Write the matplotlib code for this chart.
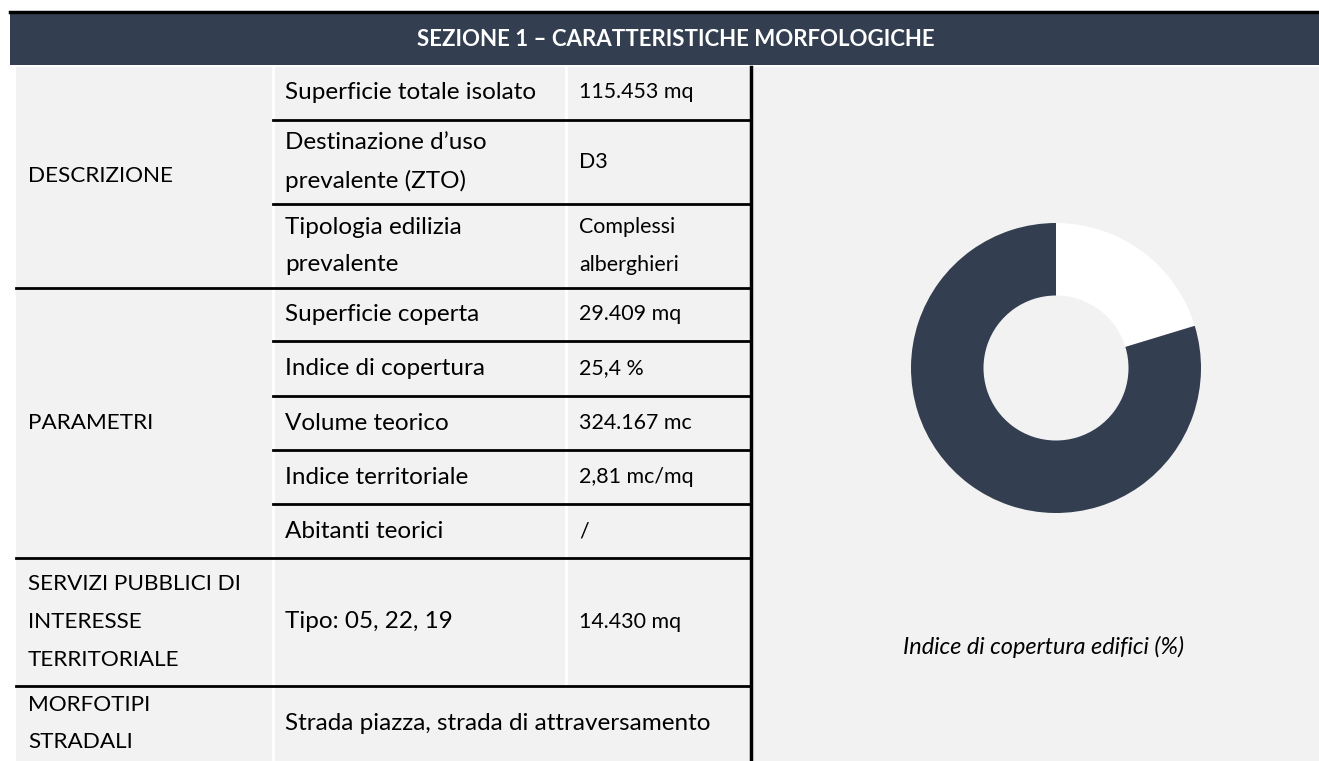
import matplotlib.pyplot as plt
from matplotlib.patches import Rectangle

plt.rcParams['font.family'] = ['Lato', 'DejaVu Sans']

DARK = "#333f50"
GRAY = "#f2f2f2"

title = "SEZIONE 1 – CARATTERISTICHE MORFOLOGICHE"

# table content
sections = ["DESCRIZIONE", "PARAMETRI", "SERVIZI PUBBLICI DI\nINTERESSE\nTERRITORIALE",
            "MORFOTIPI\nSTRADALI"]
section_rows = [3, 5, 1, 1]
row_labels = ["Superficie totale isolato", "Destinazione d’uso\nprevalente (ZTO)",
              "Tipologia edilizia\nprevalente", "Superficie coperta", "Indice di copertura",
              "Volume teorico", "Indice territoriale", "Abitanti teorici", "Tipo: 05, 22, 19",
              "Strada piazza, strada di attraversamento"]
row_values = ["115.453 mq", "D3", "Complessi\nalberghieri", "29.409 mq", "25,4 %",
              "324.167 mc", "2,81 mc/mq", "/", "14.430 mq", ""]

# donut: covered vs uncovered share
donut_values = [20.3, 79.7]
donut_caption = "Indice di copertura edifici (%)"

# layout (pixels)
W, H = 1319, 761
row_edges = [65, 120, 204, 288, 341, 396, 450, 504, 558, 686, 761]
x0, x1, x2, x3 = 16, 273, 566, 751

fig = plt.figure(figsize=(W / 100, H / 100), dpi=100)
ax = fig.add_axes([0, 0, 1, 1])
ax.set_xlim(0, W)
ax.set_ylim(H, 0)
ax.axis("off")

# backgrounds
ax.add_patch(Rectangle((x0, 67), W - x0, H - 67, color=GRAY, lw=0))
ax.add_patch(Rectangle((x0 - 6, 12), W, 53, color=DARK, lw=0))
ax.plot([x0 - 6, W], [11.5, 11.5], color="black", lw=2.5)
ax.text(676, 39, title, color="white", fontsize=16, fontweight="bold",
        ha="center", va="center")

# rows
for i, (lab, val) in enumerate(zip(row_labels, row_values)):
    top, bot = row_edges[i], row_edges[i + 1]
    yc = (top + bot) / 2
    ax.text(285, yc, lab, fontsize=17.5, ha="left", va="center", linespacing=1.95)
    if val:
        ax.text(579, yc, val, fontsize=15.4, ha="left", va="center", linespacing=2.1)
        ax.plot([x2, x2], [top + 2, bot - 2], color="white", lw=2)
    ax.plot([x1, x1], [top + 2, bot - 2], color="white", lw=2)

# section labels and lines
r = 0
for sec, n in zip(sections, section_rows):
    top, bot = row_edges[r], row_edges[r + n]
    ax.text(28, (top + bot) / 2, sec, fontsize=16.2, ha="left", va="center", linespacing=2.1)
    for k in range(r + 1, r + n):
        ax.plot([x1, x3], [row_edges[k], row_edges[k]], color="black", lw=2)
    if r + n < len(row_edges) - 1:
        ax.plot([x0, x3], [bot, bot], color="black", lw=2)
    r += n

ax.plot([x3, x3], [67, H], color="black", lw=2.5)

# donut
cx, cy, rad = 1056, 368, 145
dax = fig.add_axes([(cx - rad) / W, (H - cy - rad) / H, 2 * rad / W, 2 * rad / H])
dax.pie(donut_values, colors=["white", DARK], startangle=90, counterclock=False,
        radius=1, wedgeprops=dict(width=0.5, linewidth=0))
dax.set_xlim(-1, 1)
dax.set_ylim(-1, 1)
dax.set_aspect("equal")
dax.axis("off")
ax.text(1044, 647, donut_caption, fontsize=16.9, style="italic", ha="center", va="center")

fig.savefig("out.png", dpi=100)
